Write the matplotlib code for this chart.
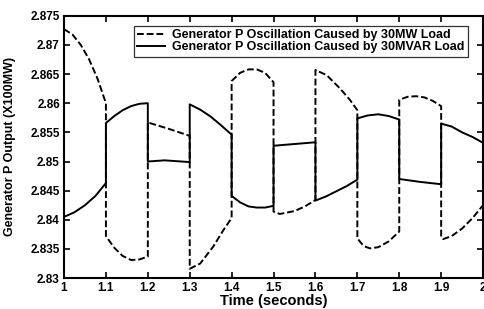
import numpy as np
import matplotlib
matplotlib.use("Agg")
import matplotlib.pyplot as plt

plt.rcParams['font.family'] = ['Liberation Sans', 'DejaVu Sans']
plt.rcParams['font.weight'] = 'bold'

# 30MW load case (dashed) - segments between switching instants
t_mw = [1.0, 1.02, 1.04, 1.06, 1.08, 1.1,
        1.1, 1.12, 1.14, 1.16, 1.18, 1.2,
        1.2, 1.25, 1.3,
        1.3, 1.325, 1.356, 1.38, 1.4,
        1.4, 1.42, 1.44, 1.46, 1.48, 1.5,
        1.5, 1.515, 1.55, 1.575, 1.6,
        1.6, 1.627, 1.659, 1.683, 1.7,
        1.7, 1.715, 1.73, 1.75, 1.775, 1.8,
        1.8, 1.82, 1.84, 1.86, 1.88, 1.9,
        1.9, 1.905, 1.925, 1.95, 1.975, 2.0]
p_mw = [2.8727, 2.8718, 2.8700, 2.8675, 2.8642, 2.8600,
        2.8372, 2.8352, 2.8338, 2.8331, 2.8332, 2.8337,
        2.8567, 2.8556, 2.8544,
        2.8316, 2.8325, 2.8354, 2.8382, 2.8403,
        2.8638, 2.8652, 2.8658, 2.8658, 2.8652, 2.8636,
        2.8414, 2.8410, 2.8415, 2.8423, 2.8434,
        2.8657, 2.8648, 2.8625, 2.8605, 2.8588,
        2.8368, 2.8355, 2.8351, 2.8353, 2.8363, 2.8380,
        2.8606, 2.8611, 2.8612, 2.8610, 2.8604, 2.8595,
        2.8370, 2.8367, 2.8372, 2.8385, 2.8403, 2.8425]

# 30MVAR load case (solid)
t_mvar = [1.0, 1.025, 1.05, 1.075, 1.1,
          1.1, 1.12, 1.14, 1.16, 1.18, 1.2,
          1.2, 1.24, 1.3,
          1.3, 1.325, 1.35, 1.375, 1.4,
          1.4, 1.42, 1.44, 1.46, 1.48, 1.5,
          1.5, 1.55, 1.6,
          1.6, 1.625, 1.65, 1.675, 1.7,
          1.7, 1.725, 1.75, 1.775, 1.8,
          1.8, 1.85, 1.9,
          1.9, 1.925, 1.95, 1.975, 2.0]
p_mvar = [2.8405, 2.8413, 2.8425, 2.8441, 2.8463,
          2.8566, 2.8578, 2.8588, 2.8595, 2.8599, 2.8600,
          2.8500, 2.8502, 2.8499,
          2.8598, 2.8589, 2.8577, 2.8562, 2.8546,
          2.8441, 2.8430, 2.8423, 2.8421, 2.8421, 2.8424,
          2.8527, 2.8530, 2.8533,
          2.8433, 2.8440, 2.8449, 2.8458, 2.8469,
          2.8574, 2.8579, 2.8581, 2.8578, 2.8572,
          2.8470, 2.8465, 2.8461,
          2.8565, 2.8560, 2.8550, 2.8542, 2.8532]

x_ticks = [1, 1.1, 1.2, 1.3, 1.4, 1.5, 1.6, 1.7, 1.8, 1.9, 2]
x_labels = ['1', '1.1', '1.2', '1.3', '1.4', '1.5', '1.6', '1.7', '1.8', '1.9', '2']
y_ticks = [2.83, 2.835, 2.84, 2.845, 2.85, 2.855, 2.86, 2.865, 2.87, 2.875]
y_labels = ['2.83', '2.835', '2.84', '2.845', '2.85', '2.855', '2.86', '2.865', '2.87', '2.875']

fig = plt.figure(figsize=(4.85, 3.09), dpi=100)
ax = fig.add_axes([0.132, 0.1, 0.864, 0.849])

ax.plot(t_mw, p_mw, color='black', linestyle=(0, (3.5, 1.5)), linewidth=1.4,
        label='Generator P Oscillation Caused by 30MW Load')
ax.plot(t_mvar, p_mvar, color='black', linestyle='-', linewidth=1.4,
        label='Generator P Oscillation Caused by 30MVAR Load')

ax.set_xlim(1, 2)
ax.set_ylim(2.83, 2.875)
ax.set_xticks(x_ticks)
ax.set_xticklabels(x_labels)
ax.set_yticks(y_ticks)
ax.set_yticklabels(y_labels)
ax.tick_params(direction='in', top=True, right=True, length=4, width=1.2,
               labelsize=8.5, pad=3)
for s in ax.spines.values():
    s.set_linewidth(1.5)

ax.set_xlabel('Time (seconds)', fontsize=10.5, fontweight='bold', labelpad=0)
ax.set_ylabel('Generator P Output (X100MW)', fontsize=9, fontweight='bold', labelpad=10)

leg = ax.legend(loc='upper right', bbox_to_anchor=(0.965, 0.962), fontsize=9,
                frameon=True, fancybox=False, edgecolor='black', handlelength=2.2,
                borderpad=0.3, labelspacing=0.0, handletextpad=0.6, borderaxespad=0)
leg.get_frame().set_linewidth(0.9)

fig.savefig('out.png', dpi=100)
